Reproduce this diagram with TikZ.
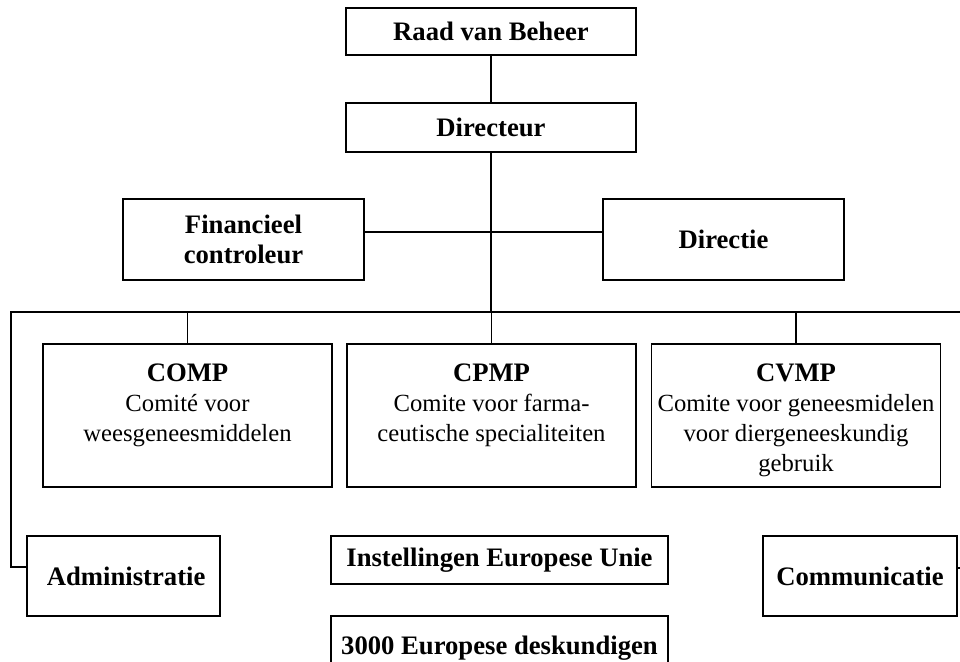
\documentclass[tikz,border=0pt]{standalone}
\usepackage{fontspec}
\setmainfont{Liberation Serif}
\usetikzlibrary{positioning}

\newcommand{\comite}[2]{\parbox[c][95.25pt][t]{214pt}{\centering
  \fontsize{18.5}{22.5}\selectfont\rule{0pt}{21.75pt}{\fontsize{20}{22.5}\selectfont\bfseries #1}\\#2}}

\begin{document}
\begin{tikzpicture}[x = 0.75pt, y = -0.75pt, line width = 1.4pt,
  orgbox/.style = {draw, align = center, inner sep = 0pt,
    font = \fontsize{20}{22.5}\selectfont\bfseries},
  comitebox/.style = {draw, inner xsep = 1pt, inner ysep = 6pt, minimum width = 216.75pt,
    minimum height = 107.25pt}]
  \useasboundingbox (0, 0) rectangle (960, 661);

  % 上の二つ
  \node [orgbox, minimum width = 217.5pt, minimum height = 35.25pt] (raad) at (491, 31.5) {Raad van Beheer};
  \node [orgbox, minimum width = 217.5pt, minimum height = 36.75pt] (directeur) at (491, 127.5) {Directeur};

  % 横の二つ
  \node [orgbox, minimum width = 180.75pt, minimum height = 60.75pt] (fincontr) at (243.5, 239.5) {Financieel\\controleur};
  \node [orgbox, minimum width = 180.75pt, minimum height = 60.75pt] (directie) at (723.5, 239.5) {Directie};

  % 委員会
  \node [comitebox] (comp) at (187.5, 415.5) {\comite{COMP}{Comité voor\\weesgeneesmiddelen}};
  \node [comitebox] (cpmp) at (491.5, 415.5) {\comite{CPMP}{Comite voor farma-\\ceutische specialiteiten}};
  \node [comitebox] (cvmp) at (796, 415.5) {\comite{CVMP}{Comite voor geneesmidelen\\voor diergeneeskundig\\gebruik}};

  % 下段
  \node [orgbox, minimum width = 144.75pt, minimum height = 60pt] (admin) at (123.5, 576) {\hspace{4pt}Administratie};
  \node [orgbox, minimum width = 145.5pt, minimum height = 60pt] (commun) at (860, 576) {Communicatie};
  \node [orgbox, minimum width = 252.75pt, minimum height = 36pt] (instel) at (499.5, 560) {Instellingen Europese Unie};
  \node [orgbox, minimum width = 252.75pt, minimum height = 48pt] (deskund) at (499.5, 648) {3000 Europese deskundigen};

  % 線
  \coordinate (busL) at (11, 312);
  \coordinate (busR) at (962, 312);
  \coordinate (bus) at (491, 312);
  \coordinate (stafy) at (0, 232);
  \coordinate (admy) at (0, 567);
  \coordinate (comR) at (962, 568);

  \draw (raad) -- (directeur);
  \draw (directeur.south) -- (bus);
  \draw (fincontr.east |- stafy) -- (directie.west |- stafy);
  \draw (admin.west |- admy) -| (busL) -- (busR);
  \foreach \c in {comp, cpmp, cvmp}
    \draw (\c.north |- busL) -- (\c.north);
  \draw (commun.east |- comR) -- (comR);

\end{tikzpicture}
\end{document}
